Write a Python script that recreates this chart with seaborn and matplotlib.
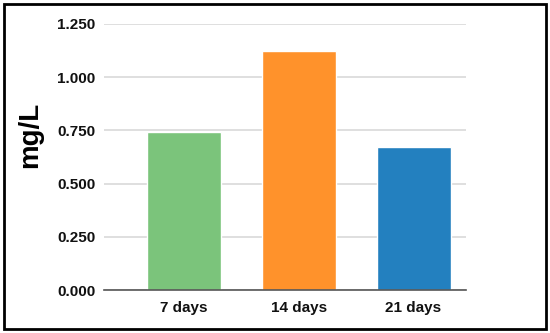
import matplotlib
matplotlib.use("Agg")
import matplotlib.pyplot as plt
import seaborn as sns
import pandas as pd
from matplotlib.patches import Rectangle

categories = ["7 days", "14 days", "21 days"]
values = [0.742, 1.122, 0.673]
colors = ["#7bc47b", "#ff922b", "#2380bf"]
yticks = [0.0, 0.25, 0.5, 0.75, 1.0, 1.25]
ytick_labels = ["0.000", "0.250", "0.500", "0.750", "1.000", "1.250"]

sns.set_style("white")
plt.rcParams["font.family"] = ["Liberation Sans", "DejaVu Sans"]
plt.rcParams["text.color"] = "black"
plt.rcParams["xtick.color"] = "black"
plt.rcParams["ytick.color"] = "black"
plt.rcParams["axes.labelcolor"] = "black"

df = pd.DataFrame({"cat": categories, "val": values})

fig = plt.figure(figsize=(5.5, 3.33), dpi=100)
ax = fig.add_axes([0.189, 0.129, 0.658, 0.799])
sns.barplot(data=df, x="cat", y="val", hue="cat", palette=colors,
            width=0.643, legend=False, ax=ax, saturation=1)

ax.set_xlim(-0.693, 2.455)
ax.set_ylim(0, 1.25)
ax.set_yticks(yticks)
ax.set_yticklabels(ytick_labels, fontweight="bold", fontsize=11, color="#111111")
ax.set_xticks(range(len(categories)))
ax.set_xticklabels(categories, fontweight="bold", fontsize=11, color="#111111")
ax.tick_params(axis="both", length=0)
ax.tick_params(axis="y", pad=6)
ax.tick_params(axis="x", pad=8)
ax.grid(axis="y", color="#d9d9d9", linewidth=1.2)
ax.set_axisbelow(True)
for s in ["top", "right", "left"]:
    ax.spines[s].set_visible(False)
ax.spines["bottom"].set_color("#555555")
ax.spines["bottom"].set_linewidth(1.2)
ax.set_xlabel("")
ax.set_ylabel("mg/L", fontweight="bold", fontsize=20, color="black")
ax.yaxis.set_label_coords(-0.168, 0.585)

fig.patches.append(Rectangle((4/550, 4/333), 542/550, 325/333, transform=fig.transFigure,
                             fill=False, edgecolor="black", linewidth=2))

fig.savefig("out.png", dpi=100)
